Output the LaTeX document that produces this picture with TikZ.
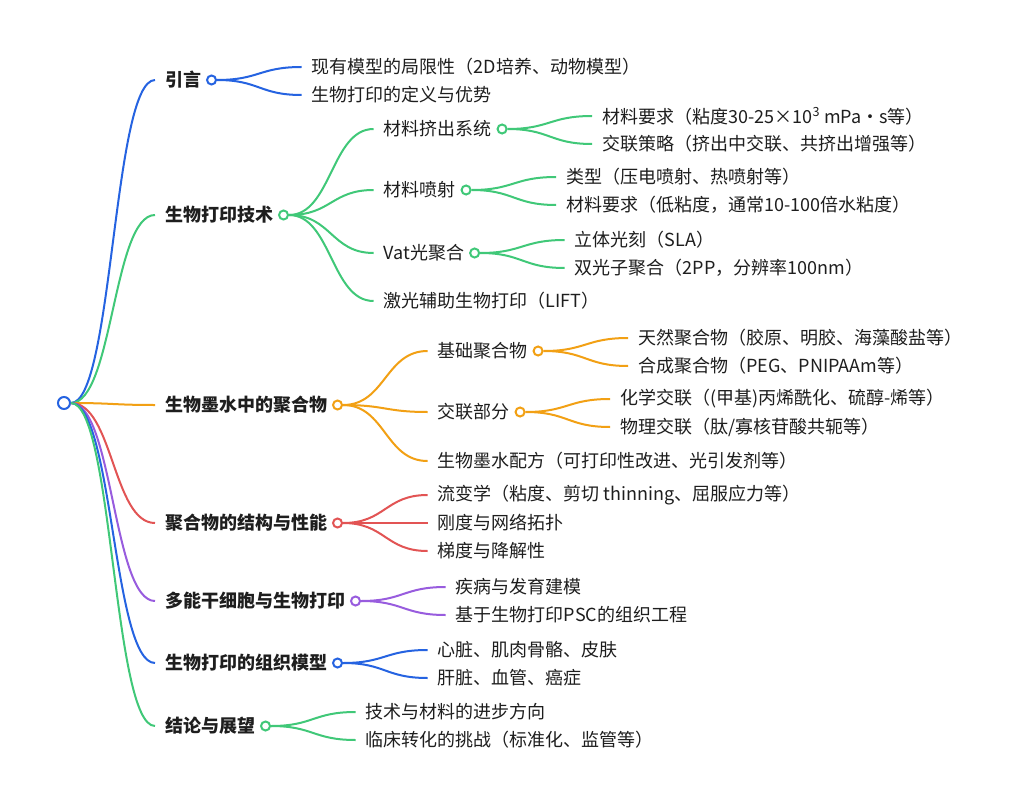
\documentclass[tikz,border=0pt]{standalone}
\usepackage{fontspec}
\setmainfont{Noto Sans CJK SC}
\usepackage{tikz}
\usetikzlibrary{calc}

\definecolor{mmblue}{RGB}{37,99,225}
\definecolor{mmgreen}{RGB}{64,200,120}
\definecolor{mmorange}{RGB}{242,160,20}
\definecolor{mmred}{RGB}{226,84,84}
\definecolor{mmpurple}{RGB}{152,92,222}
\definecolor{textgray}{RGB}{30,30,30}

\begin{document}
\begin{tikzpicture}[
                x=0.75pt, y=-0.75pt,
                topic node/.style={anchor=west,inner xsep=7.5pt,inner ysep=1pt,text=textgray,
                    font=\fontsize{13.5}{16}\selectfont\bfseries},
                sub node/.style={anchor=west,inner xsep=7.5pt,inner ysep=1pt,text=textgray,
                    font=\fontsize{13.5}{16}\selectfont},
                dot node/.style={circle,draw=#1,fill=white,line width=1.5pt,minimum size=6.75pt,inner sep=0pt},
                link/.style={draw=#1,line width=1.5pt,
                    to path={let \p1=(\tikztostart), \p2=(\tikztotarget) in
                        .. controls ({(\x1+\x2)/2},\y1) and ({(\x1+\x2)/2},\y2) .. (\tikztotarget)}},
                ]
                \fill[white] (0,0) rectangle (1024,806);
                \useasboundingbox (0,0) rectangle (1024,806);

                \node[dot node=mmblue,minimum size=9pt] (root) at (64,403) {};

                % main topics
                \node[topic node] (intro) at (155,80) {引言};
                \node[topic node] (tech) at (155,215) {生物打印技术};
                \node[topic node] (bioink) at (155,405) {生物墨水中的聚合物};
                \node[topic node] (props) at (155,523) {聚合物的结构与性能};
                \node[topic node] (psc) at (155,601) {多能干细胞与生物打印};
                \node[topic node] (tissue) at (155,663) {生物打印的组织模型};
                \node[topic node] (outlook) at (155,726) {结论与展望};

                \node[dot node=mmblue] (intro-d) at (intro.east) {};
                \node[dot node=mmgreen] (tech-d) at (tech.east) {};
                \node[dot node=mmorange] (bioink-d) at (bioink.east) {};
                \node[dot node=mmred] (props-d) at (props.east) {};
                \node[dot node=mmpurple] (psc-d) at (psc.east) {};
                \node[dot node=mmblue] (tissue-d) at (tissue.east) {};
                \node[dot node=mmgreen] (outlook-d) at (outlook.east) {};

                % 引言
                \node[sub node] (intro1) at ([shift={(90,-13)}]intro-d) {现有模型的局限性（2D培养、动物模型）};
                \node[sub node] (intro2) at ([shift={(90,15)}]intro-d) {生物打印的定义与优势};

                % 生物打印技术
                \node[sub node] (extr) at ([shift={(90,-86)}]tech-d) {材料挤出系统};
                \node[sub node] (jet) at ([shift={(90,-25)}]tech-d) {材料喷射};
                \node[sub node] (vat) at ([shift={(90,38)}]tech-d) {Vat光聚合};
                \node[sub node] (lift) at ([shift={(90,86)}]tech-d) {激光辅助生物打印（LIFT）};
                \node[dot node=mmgreen] (extr-d) at (extr.east) {};
                \node[dot node=mmgreen] (jet-d) at (jet.east) {};
                \node[dot node=mmgreen] (vat-d) at (vat.east) {};
                \node[sub node] (extr1) at ([shift={(90,-13)}]extr-d) {材料要求（粘度30-25×10\textsuperscript{3} mPa・s等）};
                \node[sub node] (extr2) at ([shift={(90,15)}]extr-d) {交联策略（挤出中交联、共挤出增强等）};
                \node[sub node] (jet1) at ([shift={(90,-13)}]jet-d) {类型（压电喷射、热喷射等）};
                \node[sub node] (jet2) at ([shift={(90,15)}]jet-d) {材料要求（低粘度，通常10-100倍水粘度）};
                \node[sub node] (vat1) at ([shift={(90,-13)}]vat-d) {立体光刻（SLA）};
                \node[sub node] (vat2) at ([shift={(90,15)}]vat-d) {双光子聚合（2PP，分辨率100nm）};

                % 生物墨水中的聚合物
                \node[sub node] (base) at ([shift={(90,-54)}]bioink-d) {基础聚合物};
                \node[sub node] (cross) at ([shift={(90,7)}]bioink-d) {交联部分};
                \node[sub node] (recipe) at ([shift={(90,56)}]bioink-d) {生物墨水配方（可打印性改进、光引发剂等）};
                \node[dot node=mmorange] (base-d) at (base.east) {};
                \node[dot node=mmorange] (cross-d) at (cross.east) {};
                \node[sub node] (base1) at ([shift={(90,-13)}]base-d) {天然聚合物（胶原、明胶、海藻酸盐等）};
                \node[sub node] (base2) at ([shift={(90,15)}]base-d) {合成聚合物（PEG、PNIPAAm等）};
                \node[sub node] (cross1) at ([shift={(90,-13)}]cross-d) {化学交联（(甲基)丙烯酰化、硫醇-烯等）};
                \node[sub node] (cross2) at ([shift={(90,15)}]cross-d) {物理交联（肽/寡核苷酸共轭等）};

                % 聚合物的结构与性能
                \node[sub node] (props1) at ([shift={(90,-28)}]props-d) {流变学（粘度、剪切 thinning、屈服应力等）};
                \node[sub node] (props2) at ([shift={(90,0)}]props-d) {刚度与网络拓扑};
                \node[sub node] (props3) at ([shift={(90,28)}]props-d) {梯度与降解性};

                % 多能干细胞
                \node[sub node] (psc1) at ([shift={(90,-14)}]psc-d) {疾病与发育建模};
                \node[sub node] (psc2) at ([shift={(90,14)}]psc-d) {基于生物打印PSC的组织工程};

                % 组织模型
                \node[sub node] (tissue1) at ([shift={(90,-13)}]tissue-d) {心脏、肌肉骨骼、皮肤};
                \node[sub node] (tissue2) at ([shift={(90,15)}]tissue-d) {肝脏、血管、癌症};

                % 结论与展望
                \node[sub node] (outlook1) at ([shift={(90,-14)}]outlook-d) {技术与材料的进步方向};
                \node[sub node] (outlook2) at ([shift={(90,14)}]outlook-d) {临床转化的挑战（标准化、监管等）};

                % links
                \draw[link=mmblue] (root.east) to (intro.west);
                \draw[link=mmgreen] (root.east) to (tech.west);
                \draw[link=mmorange] (root.east) to (bioink.west);
                \draw[link=mmred] (root.east) to (props.west);
                \draw[link=mmpurple] (root.east) to (psc.west);
                \draw[link=mmblue] (root.east) to (tissue.west);
                \draw[link=mmgreen] (root.east) to (outlook.west);

                \draw[link=mmblue] (intro-d.east) to (intro1.west);
                \draw[link=mmblue] (intro-d.east) to (intro2.west);

                \draw[link=mmgreen] (tech-d.east) to (extr.west);
                \draw[link=mmgreen] (tech-d.east) to (jet.west);
                \draw[link=mmgreen] (tech-d.east) to (vat.west);
                \draw[link=mmgreen] (tech-d.east) to (lift.west);
                \draw[link=mmgreen] (extr-d.east) to (extr1.west);
                \draw[link=mmgreen] (extr-d.east) to (extr2.west);
                \draw[link=mmgreen] (jet-d.east) to (jet1.west);
                \draw[link=mmgreen] (jet-d.east) to (jet2.west);
                \draw[link=mmgreen] (vat-d.east) to (vat1.west);
                \draw[link=mmgreen] (vat-d.east) to (vat2.west);

                \draw[link=mmorange] (bioink-d.east) to (base.west);
                \draw[link=mmorange] (bioink-d.east) to (cross.west);
                \draw[link=mmorange] (bioink-d.east) to (recipe.west);
                \draw[link=mmorange] (base-d.east) to (base1.west);
                \draw[link=mmorange] (base-d.east) to (base2.west);
                \draw[link=mmorange] (cross-d.east) to (cross1.west);
                \draw[link=mmorange] (cross-d.east) to (cross2.west);

                \draw[link=mmred] (props-d.east) to (props1.west);
                \draw[link=mmred] (props-d.east) to (props2.west);
                \draw[link=mmred] (props-d.east) to (props3.west);

                \draw[link=mmpurple] (psc-d.east) to (psc1.west);
                \draw[link=mmpurple] (psc-d.east) to (psc2.west);

                \draw[link=mmblue] (tissue-d.east) to (tissue1.west);
                \draw[link=mmblue] (tissue-d.east) to (tissue2.west);

                \draw[link=mmgreen] (outlook-d.east) to (outlook1.west);
                \draw[link=mmgreen] (outlook-d.east) to (outlook2.west);
            \end{tikzpicture}
\end{document}
